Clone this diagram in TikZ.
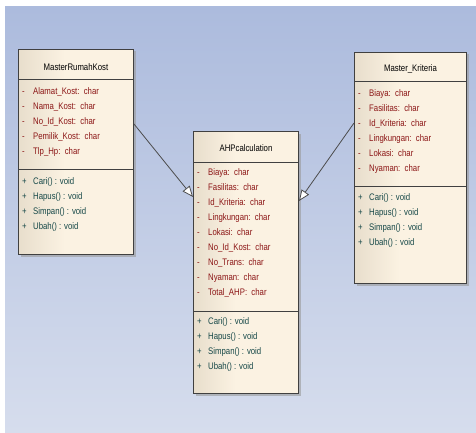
\documentclass[tikz,border=0pt]{standalone}
\usepackage{fontspec}
\newfontfamily\umlfont{Liberation Sans}[FakeStretch=0.82]
\usetikzlibrary{arrows.meta,shadows}

\definecolor{bgtop}{RGB}{172,187,221}
\definecolor{bgbot}{RGB}{214,221,237}
\definecolor{boxl}{RGB}{232,222,204}
\definecolor{boxr}{RGB}{251,242,226}
\definecolor{attrred}{RGB}{140,22,22}
\definecolor{methteal}{RGB}{22,72,72}

\pgfdeclarehorizontalshading{classfill}{100bp}{color(0bp)=(boxl); color(25bp)=(boxl); color(45bp)=(boxr); color(100bp)=(boxr)}

\tikzset{
	classbox/.style={draw=black!75, line width=1pt, shading=classfill, anchor=north west, inner sep=0pt,
		drop shadow={shadow xshift=2pt, shadow yshift=-2pt, fill=black!40, opacity=0.6}},
	sepline/.style={draw=black!75, line width=1pt},
	classtitle/.style={font=\umlfont\fontsize{9.5}{10}\selectfont, text=black, inner sep=0pt},
	attr/.style={font=\umlfont\fontsize{9.5}{10}\selectfont, text=attrred, anchor=mid west, inner sep=0pt},
	meth/.style={font=\umlfont\fontsize{9.5}{10}\selectfont, text=methteal, anchor=mid west, inner sep=0pt},
	inherit/.style={draw=black!70, line width=0.8pt, -{Triangle[length=11pt, width=9pt, fill=white]}}
}

\begin{document}
\begin{tikzpicture}[x=1pt, y=-1pt]
	\useasboundingbox (0,0) rectangle (476,433);
	\fill[white] (0,0) rectangle (476,433);
	\shade[top color=bgtop, bottom color=bgbot] (5,7) rectangle (476,433);

	% MasterRumahKost
	\node[classbox, minimum width=115pt, minimum height=205pt] (rk) at (18,49) {};
	\draw[sepline] ([yshift=-31pt]rk.north west) -- ([yshift=-31pt]rk.north east);
	\draw[sepline] ([yshift=-120pt]rk.north west) -- ([yshift=-120pt]rk.north east);
	\node[classtitle] (rktitle) at ([yshift=-18pt]rk.north) {MasterRumahKost};
	\foreach \a [count=\i] in {Alamat\_Kost, Nama\_Kost, No\_Id\_Kost, Pemilik\_Kost, Tlp\_Hp} {
		\node[attr] (rka\i) at ([xshift=4pt, yshift={-28pt-15pt*\i}]rk.north west) {\makebox[11pt][l]{-}\a:\ \ char};
	}
	\foreach \m [count=\i] in {Cari, Hapus, Simpan, Ubah} {
		\node[meth] (rkm\i) at ([xshift=4pt, yshift={-118pt-15pt*\i}]rk.north west) {\makebox[11pt][l]{+}\m() : void};
	}

	% AHPcalculation
	\node[classbox, minimum width=105pt, minimum height=262pt] (ahp) at (193,131) {};
	\draw[sepline] ([yshift=-31pt]ahp.north west) -- ([yshift=-31pt]ahp.north east);
	\draw[sepline] ([yshift=-180pt]ahp.north west) -- ([yshift=-180pt]ahp.north east);
	\node[classtitle] (ahptitle) at ([yshift=-17pt]ahp.north) {AHPcalculation};
	\foreach \a [count=\i] in {Biaya, Fasilitas, Id\_Kriteria, Lingkungan, Lokasi, No\_Id\_Kost, No\_Trans, Nyaman, Total\_AHP} {
		\node[attr] (ahpa\i) at ([xshift=4pt, yshift={-27pt-15pt*\i}]ahp.north west) {\makebox[11pt][l]{-}\a:\ \ char};
	}
	\foreach \m [count=\i] in {Cari, Hapus, Simpan, Ubah} {
		\node[meth] (ahpm\i) at ([xshift=4pt, yshift={-176pt-15pt*\i}]ahp.north west) {\makebox[11pt][l]{+}\m() : void};
	}

	% Master_Kriteria
	\node[classbox, minimum width=112pt, minimum height=231pt] (kr) at (354,52) {};
	\draw[sepline] ([yshift=-30pt]kr.north west) -- ([yshift=-30pt]kr.north east);
	\draw[sepline] ([yshift=-134pt]kr.north west) -- ([yshift=-134pt]kr.north east);
	\node[classtitle] (krtitle) at ([yshift=-17pt]kr.north) {Master\_Kriteria};
	\foreach \a [count=\i] in {Biaya, Fasilitas, Id\_Kriteria, Lingkungan, Lokasi, Nyaman} {
		\node[attr] (kra\i) at ([xshift=4pt, yshift={-27pt-15pt*\i}]kr.north west) {\makebox[11pt][l]{-}\a:\ \ char};
	}
	\foreach \m [count=\i] in {Cari, Hapus, Simpan, Ubah} {
		\node[meth] (krm\i) at ([xshift=4pt, yshift={-131pt-15pt*\i}]kr.north west) {\makebox[11pt][l]{+}\m() : void};
	}

	% generalisations
	\draw[inherit] ([yshift=-75pt]rk.north east) -- ([yshift=-66pt]ahp.north west);
	\draw[inherit] ([yshift=-71pt]kr.north west) -- ([yshift=-70pt]ahp.north east);
\end{tikzpicture}
\end{document}
